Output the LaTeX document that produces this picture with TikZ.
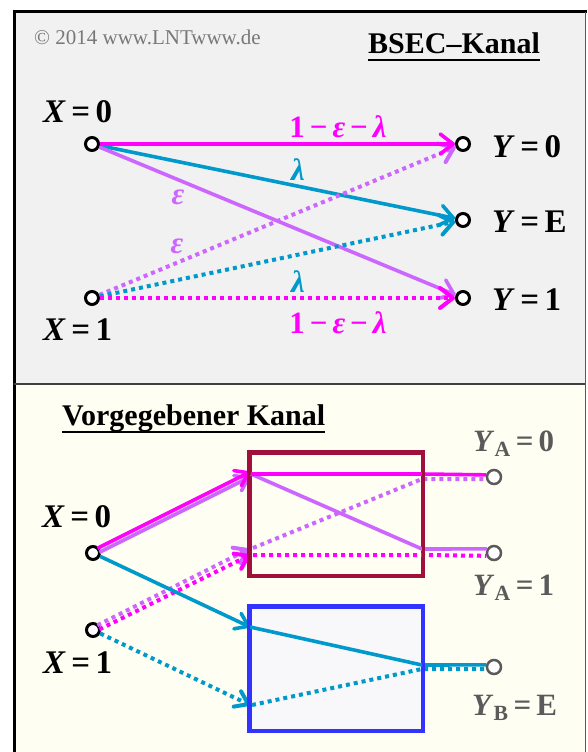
\documentclass[tikz,border=0pt]{standalone}
\usepackage{fontspec}
\setmainfont{Liberation Serif}
\usetikzlibrary{arrows.meta}
\definecolor{mag}{RGB}{255,0,255}
\definecolor{vio}{RGB}{204,102,255}
\definecolor{cya}{RGB}{0,153,204}
\definecolor{boxred}{RGB}{160,16,60}
\definecolor{boxblue}{RGB}{51,51,255}
\definecolor{boxfill}{RGB}{248,248,250}
\definecolor{topbg}{RGB}{241,241,241}
\definecolor{botbg}{RGB}{254,254,242}
\definecolor{lblgray}{RGB}{90,90,90}
\definecolor{copygray}{RGB}{120,120,120}
\newcommand{\oel}{1\hspace{0.16em}−\hspace{0.16em}\textit{ε}\hspace{0.16em}−\hspace{0.16em}\textit{λ}}
\begin{document}
\begin{tikzpicture}[x=1pt,y=-1pt,
  port/.style={circle,draw=black,fill=white,line width=3pt,minimum size=13pt,inner sep=0pt},
  gport/.style={circle,draw=lblgray,fill=white,line width=2.5pt,minimum size=14pt,inner sep=0pt},
  tip/.style={-{Straight Barb[length=13pt,width=20pt,line join=round,line cap=round]}},
  stip/.style={-{Straight Barb[length=12pt,width=17pt,line join=round,line cap=round]}},
  sol/.style={line width=3.6pt},
  dots/.style={line width=4pt,dash pattern=on 4pt off 4pt},
  lab/.style={inner sep=0pt,font=\fontsize{33}{36}\selectfont\bfseries},
  glab/.style={inner sep=0pt,text=lblgray,font=\fontsize{31}{34}\selectfont\bfseries},
  elab/.style={inner sep=0pt,font=\fontsize{31}{33}\selectfont\bfseries},
  ttl/.style={inner sep=0pt,font=\fontsize{30}{32}\selectfont\bfseries},
  ulin/.style={line width=2.2pt}
]
\useasboundingbox (0,0) rectangle (587,752);
\fill[white] (0,0) rectangle (587,752);
\fill[topbg] (14,12) rectangle (585,383);
\fill[botbg] (14,383) rectangle (585,752);
\draw[line width=3pt] (14.5,752) -- (14.5,12) -- (587,12);
\draw[line width=1.5pt,black!65] (585.5,12) -- (585.5,752);
\draw[line width=2pt,black!75] (14,383.5) -- (585,383.5);

% ---------- top part ----------
\node[inner sep=0pt,anchor=base west,text=copygray,font=\fontsize{21}{22}\selectfont] (copy) at (34,45) {© 2014 www.LNTwww.de};
\node[ttl,anchor=base west] (t1) at (368,54) {BSEC–Kanal};
\draw[ulin] ([yshift=-6pt]t1.base west) -- ([yshift=-6pt]t1.base east);

\node[port] (x0) at (92,144) {};
\node[port] (x1) at (92,298) {};
\node[port] (y0) at (463,144) {};
\node[port] (ye) at (463,220) {};
\node[port] (y1) at (463,298) {};

\draw[sol,cya,tip] (x0) -- (ye);
\draw[sol,vio,tip] (x0) -- (y1);
\draw[dots,vio,tip] (x1) -- (y0);
\draw[dots,cya,tip] (x1) -- (ye);
\draw[dots,mag,tip] (x1) -- (y1);
\draw[sol,mag,tip] (x0) -- (y0);

\node[lab,anchor=base west] (lx0) at (43,122) {\textit{X}\,=\,0};
\node[lab,anchor=base west] (lx1) at (43,340) {\textit{X}\,=\,1};
\node[lab,anchor=base west] (ly0) at (492,157) {\textit{Y}\,=\,0};
\node[lab,anchor=base west] (lye) at (492,232) {\textit{Y}\,=\,E};
\node[lab,anchor=base west] (ly1) at (492,310) {\textit{Y}\,=\,1};

\node[elab,text=mag] (e1) at (338,127) {\oel};
\node[elab,text=cya] (e2) at (298,170) {\textit{λ}};
\node[elab,text=vio] (e3) at (178,197) {\textit{ε}};
\node[elab,text=vio] (e4) at (177,246) {\textit{ε}};
\node[elab,text=cya] (e5) at (298,282) {\textit{λ}};
\node[elab,text=mag] (e6) at (338,323) {\oel};

% ---------- bottom part ----------
\node[ttl,anchor=base west] (t2) at (62,425) {Vorgegebener Kanal};
\draw[ulin] ([yshift=-7pt]t2.base west) -- ([yshift=-7pt]t2.base east);

\node[draw=boxred,line width=3pt,fill=botbg,minimum width=172pt,minimum height=122pt,inner sep=0pt] (rbox) at (336,514) {};
\node[draw=boxblue,line width=3pt,fill=boxfill,minimum width=172pt,minimum height=123pt,inner sep=0pt] (bbox) at (336,668.5) {};

\node[port] (bx0) at (93,553) {};
\node[port] (bx1) at (93,630) {};
\node[gport] (ya0) at (494,477) {};
\node[gport] (ya1) at (494,553) {};
\node[gport] (yb) at (494,667) {};

\coordinate (s0m) at (92,551);
\coordinate (s0v) at (94,555);
\coordinate (s1v) at (92,628);
\coordinate (s1m) at (94,632);
\coordinate (Tm) at (250,472);
\coordinate (Tv) at (250,477);
\coordinate (Bv) at (249,549);
\coordinate (Bm) at (250,555);
\coordinate (T) at (251,474);
\coordinate (Bd) at (253,548);
\coordinate (Bd2) at (253,555);
\coordinate (RT) at (422,474);
\coordinate (RT2) at (422,479);
\coordinate (RB) at (422,549);
\coordinate (RB2) at (422,555);
\coordinate (C1) at (250,627);
\coordinate (C2) at (250,705);
\coordinate (CR) at (422,665);
\coordinate (CR2) at (422,669);

% inside red box
\draw[sol,vio] (T) -- (RB) -- (ya1.150);
\draw[dots,vio] (Bd) -- (RT2) -- (ya0.195);
\draw[dots,mag] (Bd2) -- (RB2) -- (ya1.200);
\draw[sol,mag] (T) -- (RT) -- (ya0.165);
% inside blue box
\draw[sol,cya] (C1) -- (CR) -- (yb.165);
\draw[dots,cya] ([xshift=2pt]C2) -- (CR2) -- (yb.195);

% incoming
\draw[dots,vio,stip,shorten <=6pt] (s1v) -- (Bv);
\draw[dots,mag,stip,shorten <=6pt] (s1m) -- (Bm);
\draw[sol,vio,stip,shorten <=6pt] (s0v) -- (Tv);
\draw[sol,mag,stip,shorten <=6pt] (s0m) -- (Tm);
\draw[sol,cya,stip] (bx0) -- (C1);
\draw[dots,cya,stip] (bx1) -- (C2);

\draw[draw=boxred,line width=3pt] (rbox.north west) rectangle (rbox.south east);
\draw[draw=boxblue,line width=3pt] (bbox.north west) rectangle (bbox.south east);

\node[lab,anchor=base west] (lbx0) at (42,527) {\textit{X}\,=\,0};
\node[lab,anchor=base west] (lbx1) at (43,673) {\textit{X}\,=\,1};
\node[glab,anchor=base west] (lya0) at (473,451) {\textit{Y}\textsubscript{A}\,=\,0};
\node[glab,anchor=base west] (lya1) at (473,595) {\textit{Y}\textsubscript{A}\,=\,1};
\node[glab,anchor=base west] (lyb) at (472,715) {\textit{Y}\textsubscript{B}\,=\,E};
\end{tikzpicture}
\end{document}
